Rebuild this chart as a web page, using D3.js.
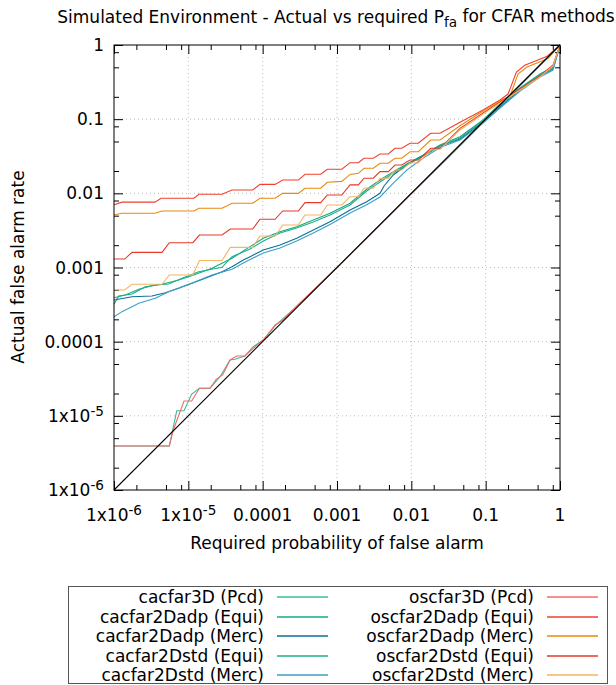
<!DOCTYPE html>
<html lang="en">
<head>
  <meta charset="UTF-8">
  <title>Actual vs required Pfa</title>
  <script src="https://d3js.org/d3.v7.min.js"></script>
  <style>
    body, html {
      margin: 0;
      padding: 0;
      background: #fff;
    }
    svg text {
      font-family: "DejaVu Sans", sans-serif;
      font-size: 17px;
      fill: #000;
    }
  </style>
</head>
<body>
  <svg width="616" height="685"></svg>
  <script>
    // tick values and their labels ([base, superscript])
    const majorTicks = [1e-6, 1e-5, 1e-4, 1e-3, 0.01, 0.1, 1];
    const tickLabels = [['1x10', '-6'], ['1x10', '-5'], ['0.0001', ''], ['0.001', ''], ['0.01', ''], ['0.1', ''], ['1', '']];
    const minorSteps = [2, 5, 8];

    const seriesNames = [
      'cacfar3D (Pcd)', 'cacfar2Dadp (Equi)', 'cacfar2Dadp (Merc)', 'cacfar2Dstd (Equi)', 'cacfar2Dstd (Merc)',
      'oscfar3D (Pcd)', 'oscfar2Dadp (Equi)', 'oscfar2Dadp (Merc)', 'oscfar2Dstd (Equi)', 'oscfar2Dstd (Merc)'
    ];

    // [required Pfa, actual false alarm rate]
    const cacfar3dPcd = [[1e-6,3.92e-6],[5.55e-6,3.92e-6],[6.98e-6,1.17e-5],[8.75e-6,1.17e-5],[1.11e-5,1.97e-5],[1.41e-5,2.35e-5],[1.96e-5,2.35e-5],[2.67e-5,3.37e-5],[3.64e-5,5.66e-5],[4.25e-5,5.78e-5],[5.78e-5,6.41e-5],[7.48e-5,8.55e-5],[1.02e-4,1.054e-4],[1.55e-4,1.73e-4],[3e-4,3.1e-4],[1e-3,1.0e-3],[3e-3,2.95e-3],[0.01,0.0098],[0.03,0.029],[0.1,0.097],[0.3,0.29],[1,1]];
    const cacfar2dadpEqui = [[1e-6,3.19e-4],[1.157e-6,4.13e-4],[1.75e-6,4.39e-4],[2.64e-6,5.51e-4],[4.42e-6,5.94e-4],[7.42e-6,6.79e-4],[1.18e-5,7.93e-4],[2.08e-5,9.75e-4],[3.87e-5,1.33e-3],[6.76e-5,1.91e-3],[1.02e-4,2.48e-3],[1.71e-4,3.04e-3],[2.87e-4,3.55e-3],[4.8e-4,4.37e-3],[8.05e-4,5.38e-3],[1.5e-3,7.34e-3],[2.51e-3,0.01133],[3.79e-3,0.01513],[5.72e-3,0.0196],[8.67e-3,0.0249],[0.0145,0.0329],[0.0243,0.0449],[0.0452,0.0581],[0.0921,0.0975],[0.156,0.160],[0.290,0.263],[0.538,0.406],[0.806,0.505],[1,1]];
    const cacfar2dadpMerc = [[1e-6,3.65e-4],[1.75e-6,4.04e-4],[3.24e-6,4.13e-4],[4.9e-6,4.57e-4],[7.42e-6,5.24e-4],[1.12e-5,6.12e-4],[1.69e-5,7.15e-4],[2.84e-5,8.78e-4],[3.87e-5,1.026e-3],[5.49e-5,1.26e-3],[6.76e-5,1.40e-3],[1.02e-4,1.72e-3],[1.71e-4,2.01e-3],[2.87e-4,2.48e-3],[4.8e-4,3.21e-3],[8.05e-4,4.15e-3],[1.5e-3,5.96e-3],[2.51e-3,7.71e-3],[3.79e-3,0.01002],[4.29e-3,0.01256],[5.72e-3,0.01767],[8.67e-3,0.0241],[0.0145,0.0324],[0.0243,0.0435],[0.0452,0.0540],[0.0921,0.0916],[0.156,0.146],[0.290,0.247],[0.538,0.382],[0.806,0.475],[1,1]];
    const cacfar2dstdEqui = [[1e-6,3.92e-4],[1.42e-6,4.26e-4],[2.15e-6,5.08e-4],[3.59e-6,5.81e-4],[5.44e-6,6.0e-4],[8.22e-6,7.15e-4],[1.38e-5,8.78e-4],[2.84e-5,1.007e-3],[3.87e-5,1.40e-3],[6.76e-5,1.78e-3],[1.02e-4,2.28e-3],[1.71e-4,2.92e-3],[2.87e-4,3.41e-3],[4.8e-4,4.11e-3],[8.05e-4,5.10e-3],[1.5e-3,6.97e-3],[2.51e-3,0.01076],[3.79e-3,0.01422],[5.72e-3,0.0188],[8.67e-3,0.0241],[0.0145,0.0319],[0.0243,0.0435],[0.0452,0.0557],[0.0921,0.0945],[0.156,0.155],[0.290,0.255],[0.538,0.394],[0.806,0.490],[1,1]];
    const cacfar2dstdMerc = [[1e-6,2.17e-4],[1.28e-6,2.54e-4],[1.75e-6,2.96e-4],[2.15e-6,3.29e-4],[3.59e-6,3.85e-4],[5.44e-6,4.72e-4],[8.22e-6,5.51e-4],[1.24e-5,6.44e-4],[2.08e-5,7.93e-4],[3.87e-5,9.46e-4],[5.49e-5,1.15e-3],[6.76e-5,1.28e-3],[1.02e-4,1.57e-3],[1.71e-4,1.83e-3],[2.87e-4,2.28e-3],[4.8e-4,2.92e-3],[8.05e-4,3.80e-3],[1.5e-3,5.43e-3],[2.51e-3,7.03e-3],[3.79e-3,8.93e-3],[5.72e-3,0.01377],[8.67e-3,0.0206],[0.0145,0.0299],[0.0243,0.0415],[0.0452,0.0524],[0.0921,0.0888],[0.156,0.1415],[0.290,0.240],[0.538,0.370],[0.806,0.460],[1,1]];
    const oscfar3dPcd = [[1e-6,3.92e-6],[5.55e-6,3.92e-6],[6.28e-6,6.44e-6],[8.75e-6,1.585e-5],[1.11e-5,1.585e-5],[1.41e-5,2.35e-5],[1.96e-5,2.35e-5],[2.36e-5,3.11e-5],[2.9e-5,3.56e-5],[3.64e-5,5.66e-5],[4.48e-5,6.41e-5],[5.78e-5,6.41e-5],[7.48e-5,8.14e-5],[1.02e-4,1.054e-4],[1.47e-4,1.68e-4],[1.9e-4,1.96e-4],[3e-4,3.15e-4],[1e-3,1.0e-3],[3e-3,3.0e-3],[0.01,0.0099],[0.03,0.0295],[0.1,0.099],[0.3,0.3],[1,1]];
    const oscfar2dadpEqui = [[1e-6,0.0070],[1.28e-6,0.0076],[3.56e-6,0.0076],[4.29e-6,0.0086],[1.19e-5,0.0086],[1.39e-5,0.0097],[2.84e-5,0.0097],[3.87e-5,0.0111],[7.34e-5,0.0111],[9.2e-5,0.0132],[1.47e-4,0.0132],[1.86e-4,0.0151],[3.02e-4,0.0151],[3.71e-4,0.0181],[6.04e-4,0.0181],[7.41e-4,0.0211],[1.16e-3,0.0211],[1.5e-3,0.0259],[1.94e-3,0.0259],[2.31e-3,0.0297],[3.08e-3,0.0297],[3.79e-3,0.0339],[4.9e-3,0.0339],[6.03e-3,0.0405],[7.42e-3,0.0405],[9.6e-3,0.0473],[0.0124,0.0473],[0.0182,0.0645],[0.0243,0.0645],[0.0452,0.091],[0.0921,0.133],[0.156,0.181],[0.200,0.218],[0.259,0.432],[0.336,0.534],[0.674,0.706],[1,1]];
    const oscfar2dadpMerc = [[1e-6,0.0051],[1.28e-6,0.00538],[3.56e-6,0.00538],[4.42e-6,0.00578],[1.19e-5,0.00578],[1.39e-5,0.00628],[2.84e-5,0.00628],[3.87e-5,0.00734],[7.34e-5,0.00734],[9.2e-5,0.00857],[1.47e-4,0.00857],[1.86e-4,0.0100],[3.02e-4,0.0100],[3.71e-4,0.0117],[6.04e-4,0.0117],[7.41e-4,0.0141],[1.16e-3,0.0145],[1.5e-3,0.0180],[1.94e-3,0.0186],[2.31e-3,0.0218],[3.08e-3,0.0218],[3.79e-3,0.0254],[4.9e-3,0.0254],[6.03e-3,0.0297],[7.42e-3,0.0297],[9.6e-3,0.0364],[0.0124,0.0364],[0.0182,0.0524],[0.0243,0.0524],[0.0452,0.0816],[0.0921,0.129],[0.156,0.176],[0.213,0.205],[0.272,0.406],[0.360,0.505],[0.690,0.658],[1,1]];
    const oscfar2dstdEqui = [[1e-6,0.0013],[1.39e-6,0.0013],[1.75e-6,0.0016],[4.43e-6,0.0016],[5.55e-6,0.00216],[1.15e-5,0.00216],[1.41e-5,0.00274],[2.84e-5,0.00274],[3.67e-5,0.0033],[7.34e-5,0.0033],[9.2e-5,0.00447],[1.47e-4,0.00447],[1.86e-4,0.00578],[3.02e-4,0.00578],[3.71e-4,0.0075],[6.04e-4,0.0075],[7.41e-4,0.0095],[1.16e-3,0.0095],[1.5e-3,0.0130],[1.94e-3,0.0130],[2.31e-3,0.0160],[3.08e-3,0.0160],[3.79e-3,0.0196],[4.9e-3,0.0196],[6.03e-3,0.0241],[7.42e-3,0.0241],[9.6e-3,0.0281],[0.0124,0.0281],[0.0182,0.0405],[0.0243,0.0405],[0.0452,0.0753],[0.0921,0.121],[0.156,0.170],[0.290,0.255],[0.538,0.382],[0.806,0.537],[1,1]];
    const oscfar2dstdMerc = [[1e-6,0.000497],[1.39e-6,0.000497],[1.75e-6,0.000594],[4.43e-6,0.000594],[5.55e-6,0.000793],[1.15e-5,0.000793],[1.41e-5,0.00124],[2.84e-5,0.00124],[3.67e-5,0.00187],[7.34e-5,0.00187],[9.2e-5,0.00266],[1.47e-4,0.00266],[1.86e-4,0.00374],[3.02e-4,0.00374],[3.71e-4,0.0051],[6.04e-4,0.0051],[7.41e-4,0.00697],[1.16e-3,0.00697],[1.5e-3,0.0090],[1.94e-3,0.0090],[2.31e-3,0.0118],[3.08e-3,0.0118],[3.79e-3,0.016],[4.9e-3,0.016],[6.03e-3,0.0206],[7.42e-3,0.0206],[9.6e-3,0.0256],[0.0124,0.0256],[0.0182,0.0384],[0.0243,0.039],[0.0452,0.0715],[0.0921,0.117],[0.156,0.165],[0.290,0.247],[0.538,0.370],[0.806,0.521],[1,1]];
    const idealLine = [[1e-6, 1e-6], [1, 1]];

    const seriesData = [cacfar3dPcd, cacfar2dadpEqui, cacfar2dadpMerc, cacfar2dstdEqui, cacfar2dstdMerc,
                        oscfar3dPcd, oscfar2dadpEqui, oscfar2dadpMerc, oscfar2dstdEqui, oscfar2dstdMerc];
    const seriesColors = ['#3dbb9b', '#16a883', '#0b6f99', '#1fae88', '#3aa0c8',
                          '#f56a66', '#f0402e', '#e8890c', '#e53a28', '#f5b461'];

    const svg = d3.select('svg');
    const plotL = 114, plotR = 560, plotT = 45, plotB = 490;

    const x = d3.scaleLog().domain([1e-6, 1]).range([plotL, plotR]);
    const y = d3.scaleLog().domain([1e-6, 1]).range([plotB, plotT]);

    const minorTicks = [];
    majorTicks.slice(0, -1).forEach((t) => minorSteps.forEach((m) => minorTicks.push(t * m)));

    // grid
    const grid = svg.append('g').attr('stroke', '#bdbdbd').attr('stroke-dasharray', '1,3');
    majorTicks.slice(1, -1).forEach((t) => {
      grid.append('line').attr('x1', x(t)).attr('x2', x(t)).attr('y1', plotT).attr('y2', plotB);
      grid.append('line').attr('y1', y(t)).attr('y2', y(t)).attr('x1', plotL).attr('x2', plotR);
    });

    // ticks on all four sides, pointing inward
    function addAxis(axisFn, scale, transform, values, size) {
      const g = svg.append('g').attr('transform', transform)
        .call(axisFn(scale).tickValues(values).tickSize(-size).tickFormat(''));
      g.select('.domain').remove();
      g.selectAll('line').attr('stroke', '#000');
      return g;
    }
    addAxis(d3.axisBottom, x, `translate(0,${plotB})`, majorTicks, 9);
    addAxis(d3.axisBottom, x, `translate(0,${plotB})`, minorTicks, 5);
    addAxis(d3.axisTop, x, `translate(0,${plotT})`, majorTicks, 9);
    addAxis(d3.axisTop, x, `translate(0,${plotT})`, minorTicks, 5);
    addAxis(d3.axisLeft, y, `translate(${plotL},0)`, majorTicks, 9);
    addAxis(d3.axisLeft, y, `translate(${plotL},0)`, minorTicks, 5);
    addAxis(d3.axisRight, y, `translate(${plotR},0)`, majorTicks, 9);
    addAxis(d3.axisRight, y, `translate(${plotR},0)`, minorTicks, 5);

    // tick labels
    function tickText(sel, lab) {
      sel.append('tspan').text(lab[0]);
      if (lab[1]) sel.append('tspan').attr('dy', '-0.45em').attr('font-size', '0.8em').text(lab[1]);
    }
    majorTicks.forEach((t, i) => {
      svg.append('text').attr('x', x(t)).attr('y', 521).attr('text-anchor', 'middle')
        .call(tickText, tickLabels[i]);
      svg.append('text').attr('x', 104).attr('y', y(t) + 6).attr('text-anchor', 'end')
        .call(tickText, tickLabels[i]);
    });

    // data lines
    const line = d3.line().x((d) => x(d[0])).y((d) => y(d[1]));
    const plot = svg.append('g').attr('fill', 'none').attr('stroke-width', 1.1);
    seriesData.forEach((s, i) => {
      plot.append('path').datum(s).attr('d', line).attr('stroke', seriesColors[i]);
    });
    plot.append('path').datum(idealLine).attr('d', line).attr('stroke', '#000');

    // border
    svg.append('rect').attr('x', plotL).attr('y', plotT).attr('width', plotR - plotL).attr('height', plotB - plotT)
      .attr('fill', 'none').attr('stroke', '#000');

    // title and axis labels
    const title = svg.append('text').attr('x', 336).attr('y', 23).attr('text-anchor', 'middle');
    title.append('tspan').text('Simulated Environment - Actual vs required P');
    title.append('tspan').attr('dy', '0.3em').attr('font-size', '0.8em').text('fa');
    title.append('tspan').attr('dy', '-0.3em').text(' for CFAR methods');

    svg.append('text').attr('x', 337).attr('y', 549).attr('text-anchor', 'middle')
      .text('Required probability of false alarm');
    svg.append('text').attr('transform', 'translate(24,267) rotate(-90)').attr('text-anchor', 'middle')
      .text('Actual false alarm rate');

    // legend
    svg.append('rect').attr('x', 68.5).attr('y', 586.5).attr('width', 539).attr('height', 97)
      .attr('fill', 'none').attr('stroke', '#555');
    seriesNames.forEach((name, i) => {
      const col = Math.floor(i / 5), row = i % 5;
      const ly = Math.round(597 + row * 19.5);
      const tx = col === 0 ? 264 : 534;
      svg.append('text').attr('x', tx).attr('y', ly + 6).attr('text-anchor', 'end').text(name);
      svg.append('line').attr('x1', tx + 13).attr('x2', tx + 64).attr('y1', ly).attr('y2', ly)
        .attr('stroke', seriesColors[i]).attr('stroke-width', 1.6);
    });
  </script>
</body>
</html>
